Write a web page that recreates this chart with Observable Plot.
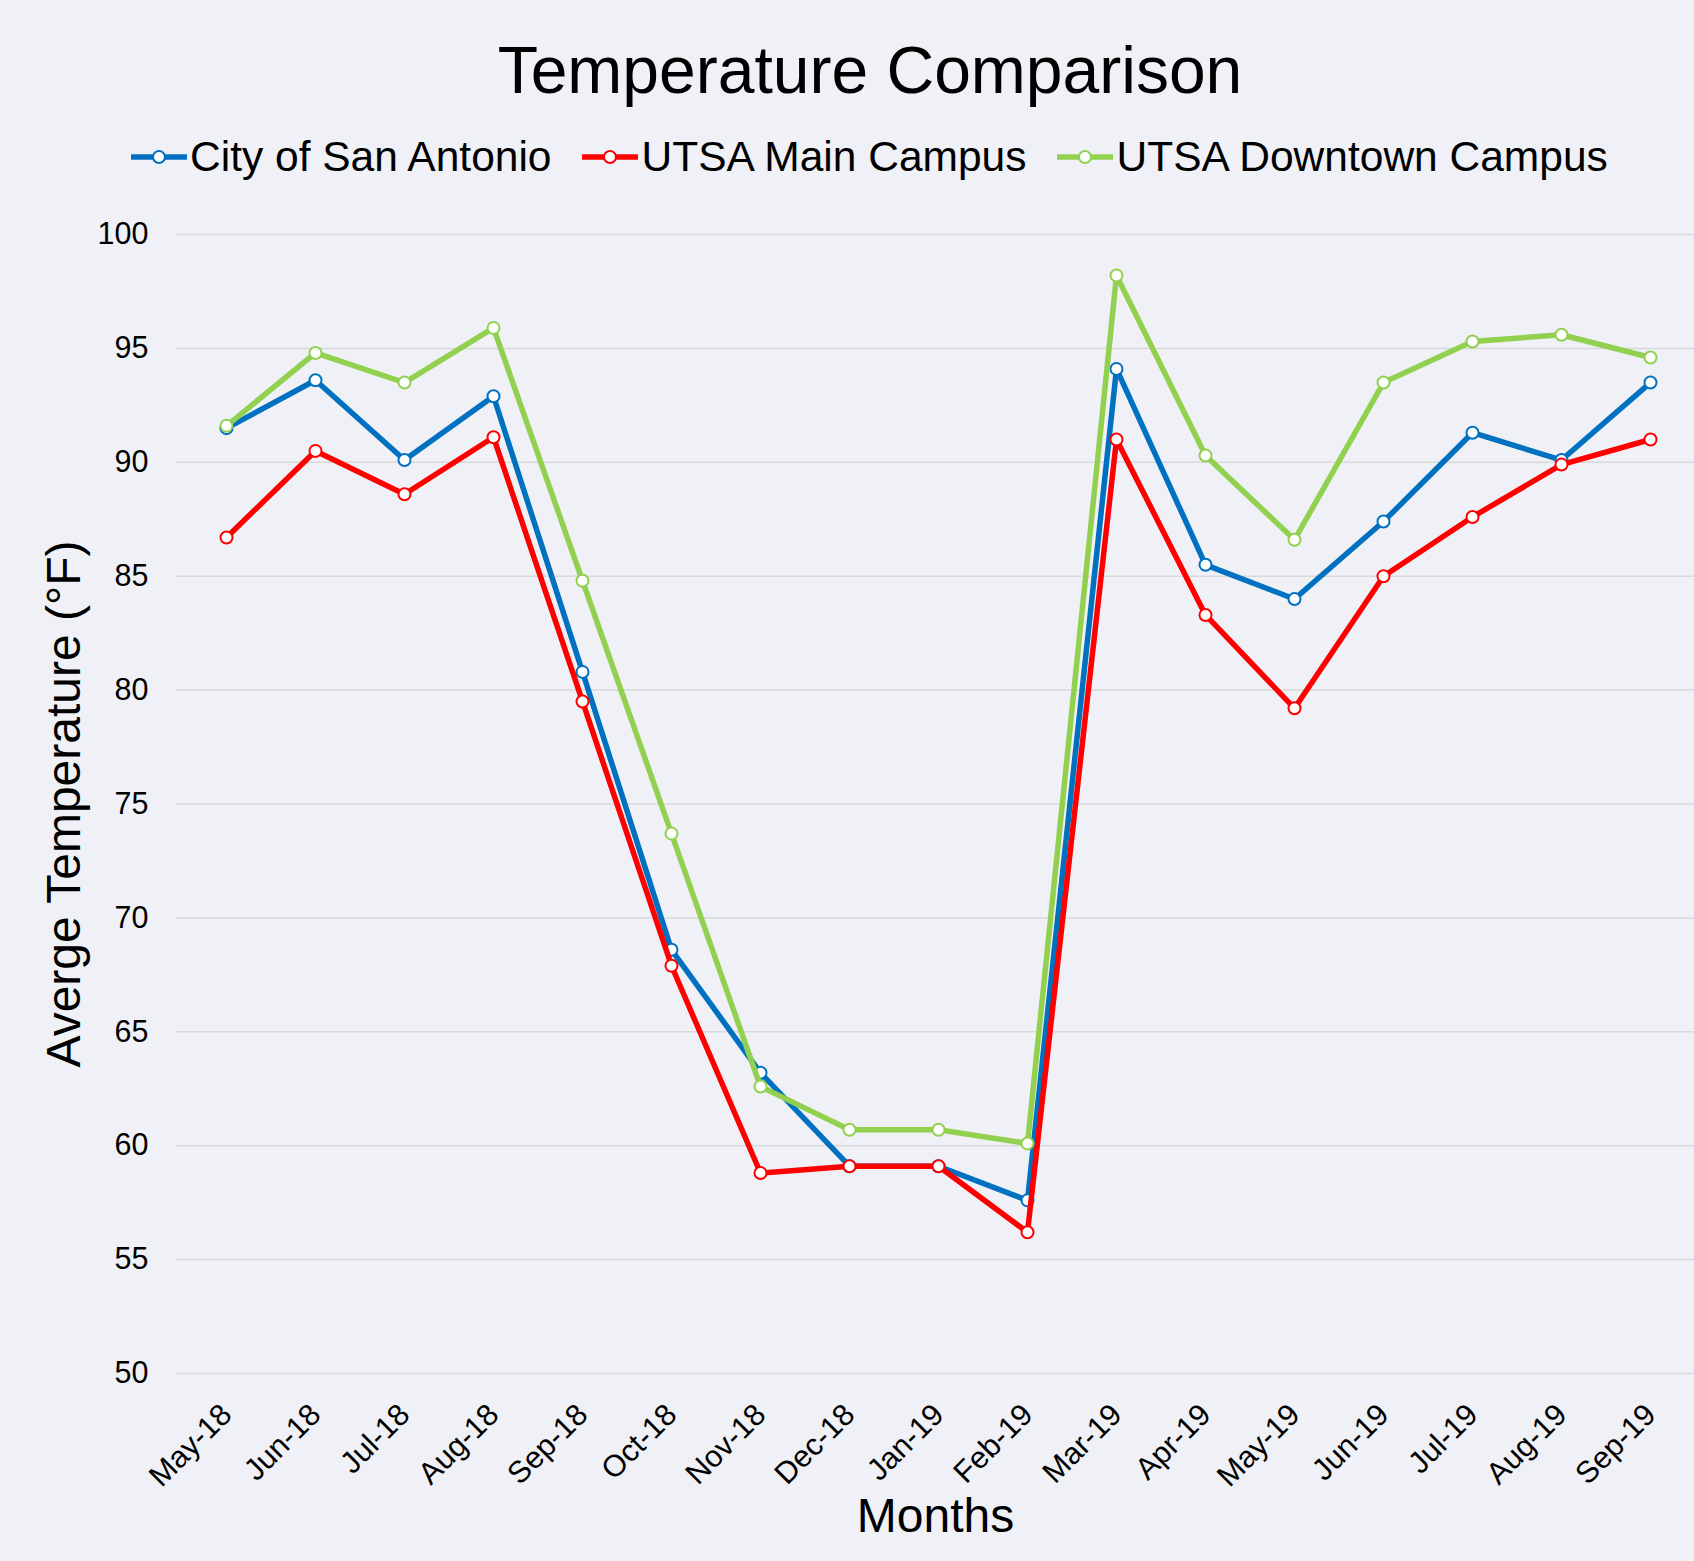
<!DOCTYPE html>
<html>
<head>
<meta charset="utf-8">
<script src="https://cdn.jsdelivr.net/npm/d3@7"></script>
<script src="https://cdn.jsdelivr.net/npm/@observablehq/plot@0.6"></script>
<style>
html, body { margin: 0; padding: 0; background: #eff1f6; }
#root { position: relative; width: 1694px; height: 1561px; background: #eff1f6; font-family: "Liberation Sans", Arial, sans-serif; overflow: hidden; color: #000; }
#title { position: absolute; left: 46px; width: 1648px; top: 37px; text-align: center; font-size: 66px; line-height: 66px; white-space: nowrap; }
#legend { position: absolute; left: 131px; top: 132px; height: 50px; display: flex; align-items: center; font-size: 42.5px; line-height: 50px; white-space: nowrap; }
.item { display: flex; align-items: center; margin-right: 31px; }
.item svg { display: block; margin-right: 3px; }
#chart { position: absolute; left: 0; top: 190px; }
</style>
</head>
<body>
<div id="root">
  <div id="title">Temperature Comparison</div>
  <div id="legend"></div>
  <div id="chart"></div>
</div>
<script>
const months = ["May-18","Jun-18","Jul-18","Aug-18","Sep-18","Oct-18","Nov-18","Dec-18","Jan-19","Feb-19","Mar-19","Apr-19","May-19","Jun-19","Jul-19","Aug-19","Sep-19"];
const cityOfSanAntonio = [91.5, 93.6, 90.1, 92.9, 80.8, 68.6, 63.2, 59.1, 59.1, 57.6, 94.1, 85.5, 84.0, 87.4, 91.3, 90.1, 93.5];
const utsaMainCampus = [86.7, 90.5, 88.6, 91.1, 79.5, 67.9, 58.8, 59.1, 59.1, 56.2, 91.0, 83.3, 79.2, 85.0, 87.6, 89.9, 91.0];
const utsaDowntownCampus = [91.6, 94.8, 93.5, 95.9, 84.8, 73.7, 62.6, 60.7, 60.7, 60.1, 98.2, 90.3, 86.6, 93.5, 95.3, 95.6, 94.6];
const seriesNames = ["City of San Antonio", "UTSA Main Campus", "UTSA Downtown Campus"];
const seriesColors = ["#0070c0", "#ff0000", "#92d050"];
const yTicks = [50, 55, 60, 65, 70, 75, 80, 85, 90, 95, 100];
const xTitle = "Months";
const yTitle = "Averge Temperature (°F)";

const seriesValues = [cityOfSanAntonio, utsaMainCampus, utsaDowntownCampus];
const rows = seriesNames.flatMap((name, s) => months.map((m, i) => ({series: name, month: m, value: seriesValues[s][i]})));

// legend
const legend = document.getElementById("legend");
seriesNames.forEach((name, s) => {
  const item = document.createElement("div");
  item.className = "item";
  item.innerHTML = `<svg width="56" height="50"><line x1="0" x2="56" y1="25" y2="25" stroke="${seriesColors[s]}" stroke-width="5.5"/><circle cx="28" cy="25" r="6" fill="#fff" stroke="${seriesColors[s]}" stroke-width="2"/></svg><span>${name}</span>`;
  legend.appendChild(item);
});

const seriesMarks = seriesNames.flatMap((name, s) => {
  const d = rows.filter(r => r.series === name);
  return [
    Plot.line(d, {x: "month", y: "value", stroke: seriesColors[s], strokeWidth: 5.5}),
    Plot.dot(d, {x: "month", y: "value", r: 6, fill: "#fff", stroke: seriesColors[s], strokeWidth: 2})
  ];
});

const chart = Plot.plot({
  width: 1694,
  height: 1371,
  marginTop: 44,
  marginBottom: 188,
  marginLeft: 176,
  marginRight: 0,
  style: {background: "transparent", fontFamily: "'Liberation Sans', Arial, sans-serif", fontSize: "30.5px", color: "#000"},
  x: {type: "point", domain: months, padding: 0.5, range: [176.7, 1698.8], tickRotate: -45, tickSize: 0, tickPadding: 36, label: null},
  y: {domain: [50, 100], ticks: yTicks, tickSize: 0, tickPadding: 28, label: null},
  marks: [
    Plot.ruleY(yTicks, {stroke: "#d9d9d9", strokeWidth: 1.5}),
    ...seriesMarks,
    Plot.text([yTitle], {frameAnchor: "left", textAnchor: "middle", rotate: -90, dx: -112, fontSize: 48, fill: "#000"}),
    Plot.text([xTitle], {frameAnchor: "bottom", textAnchor: "middle", dy: 158, fontSize: 48, fill: "#000"})
  ]
});
document.getElementById("chart").appendChild(chart);
</script>
</body>
</html>
